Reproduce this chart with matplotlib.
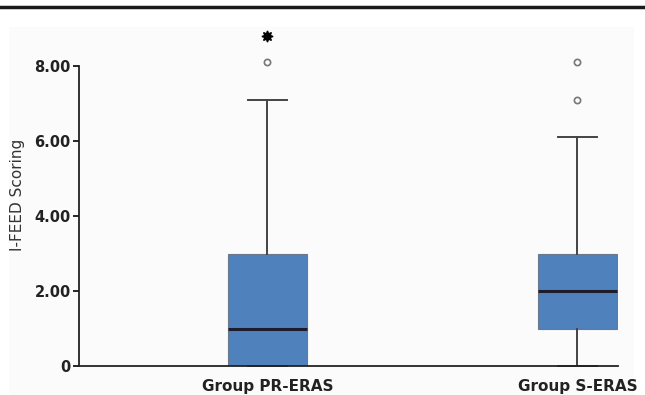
import matplotlib.pyplot as plt
from matplotlib.patches import Rectangle
from matplotlib.lines import Line2D

# data
groups = ['Group PR-ERAS', 'Group S-ERAS']
whislo = [0.0, 0.0]
q1 = [0.0, 1.0]
med = [1.0, 2.0]
q3 = [3.0, 3.0]
whishi = [7.1, 6.1]
outliers = [[8.1], [7.1, 8.1]]
extremes = [[8.8], []]
yticks = [0, 2, 4, 6, 8]
ytick_labels = ['0', '2.00', '4.00', '6.00', '8.00']

stats = []
for i, g in enumerate(groups):
    stats.append(dict(label=g, whislo=whislo[i], q1=q1[i], med=med[i],
                      q3=q3[i], whishi=whishi[i], fliers=outliers[i]))

fig = plt.figure(figsize=(6.45, 3.95), dpi=100)
fig.patch.set_facecolor('white')

# light panel and top rule
fig.patches.append(Rectangle((9/645, 0), 625/645, 368/395, transform=fig.transFigure,
                             facecolor='#fbfbfb', edgecolor='none', zorder=-10))
fig.lines.append(Line2D([0, 643/645], [1 - 7/395, 1 - 7/395], transform=fig.transFigure,
                        color='#1a1a1a', lw=2.5))

ax = fig.add_axes([79/645, 29/395, 539/645, 300/395])
ax.set_facecolor('none')

ax.bxp(stats, positions=[1, 2], widths=0.255, patch_artist=True, showcaps=True,
       boxprops=dict(facecolor='#4f81bd', edgecolor='#6a7a8c', lw=0.8),
       medianprops=dict(color='#1c1c2c', lw=2.2),
       whiskerprops=dict(color='#444444', lw=1.4),
       capprops=dict(color='#444444', lw=1.4),
       capwidths=0.127,
       flierprops=dict(marker='o', markersize=4.5, markerfacecolor='none',
                       markeredgecolor='#777777', markeredgewidth=1.2))
for a in ax.lines:
    a.set_clip_on(False)

for i, ex in enumerate(extremes):
    if ex:
        ax.plot([i + 1] * len(ex), ex, linestyle='none', marker=(8, 1, 0),
                markersize=8, color='black', clip_on=False)

ax.set_xlim(0.392, 2.131)
ax.set_ylim(0, 8)
ax.set_yticks(yticks)
ax.set_yticklabels(ytick_labels, fontsize=10.5, fontweight='bold', color='#222222')
ax.set_xticks([1, 2])
ax.set_xticklabels(groups, fontsize=11, fontweight='bold', color='#222222')
ax.tick_params(axis='x', length=0, pad=9)
ax.tick_params(axis='y', length=4, width=1.2, pad=2)
for s in ['top', 'right']:
    ax.spines[s].set_visible(False)
for s in ['left', 'bottom']:
    ax.spines[s].set_linewidth(1.3)
    ax.spines[s].set_color('#222222')

ax.set_ylabel('I-FEED Scoring', fontsize=11, color='#333333')
ax.yaxis.set_label_coords(-0.10, 0.57)

fig.savefig('out.png', dpi=100)
